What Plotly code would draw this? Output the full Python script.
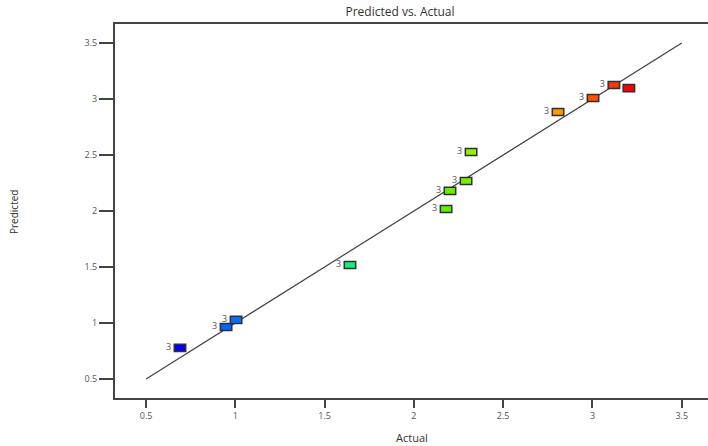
import plotly.graph_objects as go

actual = [0.69, 0.948, 1.004, 1.642, 2.180, 2.202, 2.292, 2.320, 2.807, 3.003, 3.120, 3.204]
predicted = [0.777, 0.964, 1.027, 1.518, 2.018, 2.179, 2.268, 2.527, 2.884, 3.009, 3.125, 3.098]
colors = ["#0000ff", "#0066ff", "#0070ff", "#10f07a", "#66ee00", "#66ee00", "#77f000",
          "#99f000", "#ff9900", "#ff5000", "#ff3300", "#ff0000"]
labels = ["3", "3", "3", "3", "3", "3", "3", "3", "3", "3", "3", ""]
line_x = [0.5, 3.5]
line_y = [0.5, 3.5]
xticks = [0.5, 1, 1.5, 2, 2.5, 3, 3.5]
yticks = [0.5, 1, 1.5, 2, 2.5, 3, 3.5]

fig = go.Figure()
fig.add_trace(go.Scatter(x=line_x, y=line_y, mode="lines",
                         line=dict(color="#404040", width=1.2), hoverinfo="skip"))

half = 0.032
shapes = []
for xa, yp, c in zip(actual, predicted, colors):
    shapes.append(dict(type="rect", xref="x", yref="y",
                       x0=xa - half, x1=xa + half, y0=yp - half, y1=yp + half,
                       fillcolor=c, line=dict(color="#303030", width=1.5), layer="above"))

fig.add_trace(go.Scatter(x=[a - 0.05 for a in actual], y=predicted, mode="text",
                         text=labels, textposition="middle left",
                         textfont=dict(size=9, color="#555555", family="Open Sans"),
                         hoverinfo="skip"))

fig.update_layout(
    width=708, height=446,
    margin=dict(l=115, r=0, t=24, b=48, autoexpand=False),
    paper_bgcolor="white", plot_bgcolor="white",
    showlegend=False,
    shapes=shapes,
    font=dict(family="Open Sans", color="#333333"),
    title=dict(text="Predicted vs. Actual", x=400 / 708, xref="container", xanchor="center",
               y=1 - 12 / 446, yref="container", yanchor="middle",
               font=dict(size=12, color="#333333", family="Open Sans")),
    annotations=[
        dict(text="Actual", xref="paper", yref="paper", x=0.5, y=-(437 - 398) / 374,
             xanchor="center", yanchor="middle", showarrow=False,
             font=dict(size=11, color="#333333")),
        dict(text="Predicted", xref="paper", yref="paper", x=-(115 - 14) / 593, y=(398 - 212) / 374,
             xanchor="center", yanchor="middle", showarrow=False, textangle=-90,
             font=dict(size=10, color="#333333", family="Liberation Sans Narrow, Open Sans")),
    ],
    xaxis=dict(range=[0.326, 3.647], tickvals=xticks, ticktext=[str(v) for v in xticks],
               showgrid=False, zeroline=False, showline=True, linecolor="#444444", linewidth=2,
               mirror=True, ticks="outside", ticklen=8, tickwidth=1.5, tickcolor="#444444",
               tickfont=dict(size=9, color="#555555"), automargin=False),
    yaxis=dict(range=[0.33, 3.67], tickvals=yticks, ticktext=[str(v) for v in yticks],
               showgrid=False, zeroline=False, showline=True, linecolor="#444444", linewidth=2,
               ticks="outside", ticklen=14, tickwidth=1.5, tickcolor="#444444",
               tickfont=dict(size=9, color="#555555"), automargin=False),
)
fig.write_html("out.html", config={"displayModeBar": False},
               post_script="document.body.style.margin='0';")
